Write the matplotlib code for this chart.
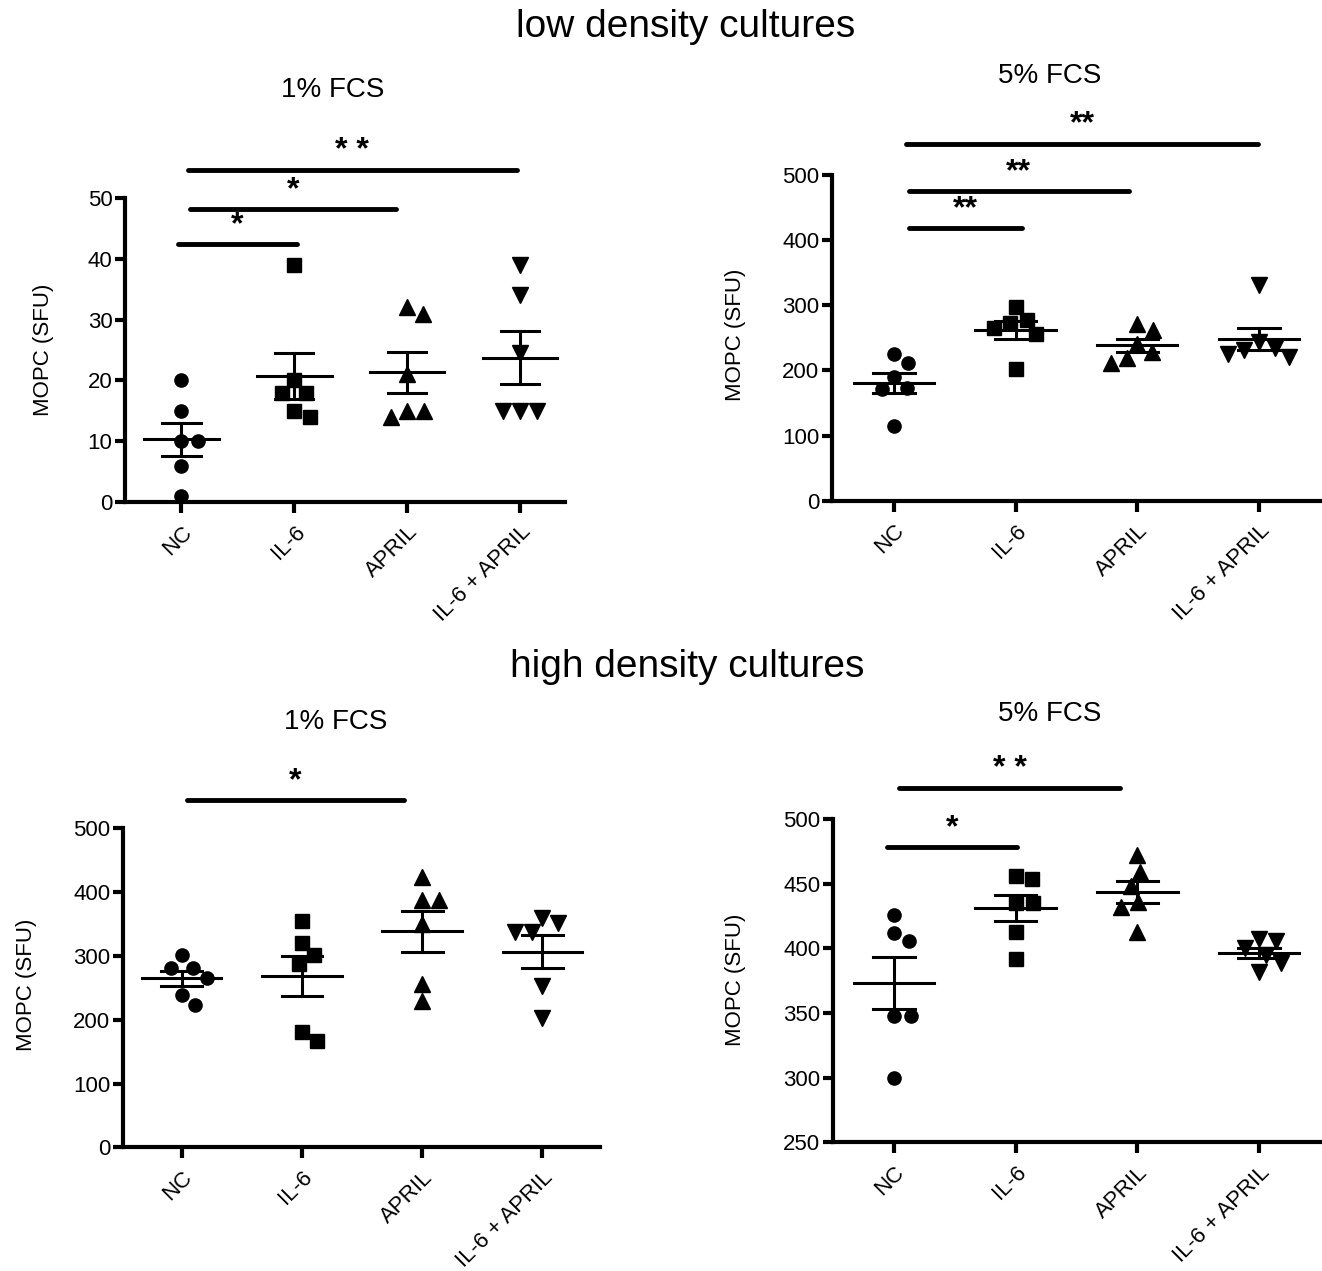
import numpy as np
import matplotlib.pyplot as plt

plt.rcParams['font.family'] = ['Liberation Sans', 'DejaVu Sans']

groups = ['NC', 'IL-6', 'APRIL', 'IL-6 + APRIL']
markers = ['o', 's', '^', 'v']

# MOPC (SFU) per group
low_1pct = [[20, 15, 10, 10, 6, 1],
            [39, 20, 18, 18, 15, 14],
            [32, 31, 21, 15, 15, 14],
            [39, 34, 24.5, 15, 15, 15]]
low_5pct = [[225, 211, 190, 173, 172, 115],
            [298, 278, 273, 265, 256, 202],
            [272, 262, 240, 228, 219, 211],
            [331, 244, 234, 231, 225, 221]]
high_1pct = [[301, 281, 281, 265, 239, 223],
             [354, 320, 301, 287, 180, 167],
             [423, 387, 387, 350, 256, 229],
             [359, 351, 338, 338, 253, 202]]
high_5pct = [[426, 412, 406, 348, 348, 300],
             [456, 454, 435, 435, 413, 392],
             [472, 459, 448, 436, 432, 413],
             [407, 406, 400, 395, 389, 382]]

# significance bars: (from, to, height, label)
low_1pct_sig = [(-0.03, 1.02, 42.4, '*'), (0.08, 1.9, 48.2, '*'), (0.06, 2.97, 54.6, '* *')]
low_5pct_sig = [(0.12, 1.05, 418, '**'), (0.12, 1.93, 475, '**'), (0.1, 2.99, 548, '**')]
high_1pct_sig = [(0.04, 1.85, 544, '*')]
high_5pct_sig = [(-0.06, 1.01, 478, '*'), (0.04, 1.86, 524, '* *')]


def swarm(ax, xc, vals, d_px=17):
    trans = ax.transData
    px_per_unit = trans.transform((1, 0))[0] - trans.transform((0, 0))[0]
    xs = np.zeros(len(vals))
    placed = []
    for i in np.argsort(vals)[::-1]:
        y = trans.transform((xc, vals[i]))[1]
        cands = [0.0]
        for px, py in placed:
            dy = abs(py - y)
            if dy < d_px:
                dx = np.sqrt(d_px ** 2 - dy ** 2)
                cands += [px + dx, px - dx]
        cands.sort(key=abs)
        for c in cands:
            if all((c - px) ** 2 + (y - py) ** 2 >= d_px ** 2 - 1e-6 for px, py in placed):
                break
        placed.append((c, y))
        xs[i] = xc + c / px_per_unit
    return xs


def draw_panel(ax, data, sig, ylim, yticks, xlim):
    ax.set_xlim(*xlim)
    ax.set_ylim(*ylim)
    for i, vals in enumerate(data):
        vals = np.array(vals, dtype=float)
        xs = swarm(ax, i, vals)
        ms = 11 if markers[i] in '^v' else 9.5
        ax.plot(xs, vals, markers[i], color='black', ms=ms, clip_on=False, zorder=3)
        m = vals.mean()
        sem = vals.std(ddof=1) / np.sqrt(len(vals))
        ax.plot([i - 0.33, i + 0.33], [m, m], color='black', lw=2.2, zorder=4)
        ax.plot([i, i], [m - sem, m + sem], color='black', lw=2.2, zorder=4)
        for e in (m - sem, m + sem):
            ax.plot([i - 0.17, i + 0.17], [e, e], color='black', lw=2.2, zorder=4)
    for x0, x1, y, label in sig:
        ax.plot([x0, x1], [y, y], color='black', lw=3.5, solid_capstyle='round', clip_on=False)
        ax.annotate(label, xy=((x0 + x1) / 2, y), xytext=(0, 3), textcoords='offset points',
                    ha='center', va='bottom', fontsize=23, fontweight='bold',
                    annotation_clip=False)
    ax.set_yticks(yticks)
    ax.set_xticks(range(len(groups)))
    ax.set_xticklabels(groups, rotation=45, ha='right', rotation_mode='anchor', fontsize=16)
    ax.tick_params(axis='y', labelsize=16, width=3, length=7, pad=2)
    ax.tick_params(axis='x', width=3, length=8, pad=6)
    for s in ['top', 'right']:
        ax.spines[s].set_visible(False)
    for s in ['left', 'bottom']:
        ax.spines[s].set_linewidth(3)


fig = plt.figure(figsize=(13.22, 12.71), dpi=100)

ax1 = fig.add_axes([0.0946, 0.605, 0.3328, 0.2392])
ax2 = fig.add_axes([0.6293, 0.606, 0.369, 0.2563])
ax3 = fig.add_axes([0.093, 0.0973, 0.3608, 0.251])
ax4 = fig.add_axes([0.6301, 0.1013, 0.3684, 0.2543])

draw_panel(ax1, low_1pct, low_1pct_sig, (0, 50), range(0, 51, 10), (-0.5, 3.4))
draw_panel(ax2, low_5pct, low_5pct_sig, (0, 500), range(0, 501, 100), (-0.51, 3.5))
draw_panel(ax3, high_1pct, high_1pct_sig, (0, 500), range(0, 501, 100), (-0.49, 3.48))
draw_panel(ax4, high_5pct, high_5pct_sig, (250, 500), range(250, 501, 50), (-0.5, 3.5))

W, H = 1322, 1271
fig.text(686 / W, 1 - 27 / H, 'low density cultures', ha='center', va='center', fontsize=28)
fig.text(687 / W, 1 - 667 / H, 'high density cultures', ha='center', va='center', fontsize=28)
fig.text(333 / W, 1 - 90 / H, '1% FCS', ha='center', va='center', fontsize=20)
fig.text(1050 / W, 1 - 76 / H, '5% FCS', ha='center', va='center', fontsize=20)
fig.text(336 / W, 1 - 722 / H, '1% FCS', ha='center', va='center', fontsize=20)
fig.text(1050 / W, 1 - 714 / H, '5% FCS', ha='center', va='center', fontsize=20)
for x, y in [(43, 350), (735, 335), (27, 985), (735, 980)]:
    fig.text(x / W, 1 - y / H, 'MOPC (SFU)', ha='center', va='center', rotation=90, fontsize=16)

fig.savefig('out.png', dpi=100)
